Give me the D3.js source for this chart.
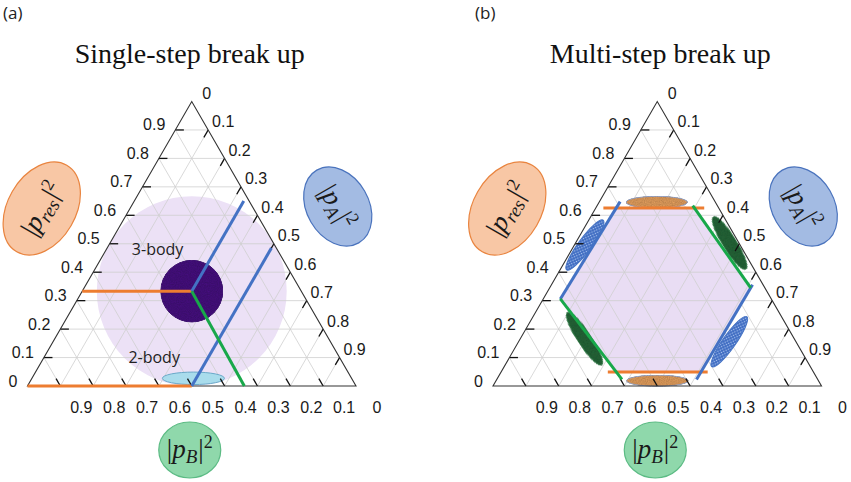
<!DOCTYPE html>
<html>
<head>
<meta charset="utf-8">
<script src="https://cdn.jsdelivr.net/npm/d3@7"></script>
<style>
  body { margin: 0; background: #fff; }
  svg { display: block; }
</style>
</head>
<body>
<div id="chart"></div>
<script>
const width = 851, height = 482;

// tick values / labels shared by the three edges
const tickValues = [0, 0.1, 0.2, 0.3, 0.4, 0.5, 0.6, 0.7, 0.8, 0.9];
const tickLabels = ["0", "0.1", "0.2", "0.3", "0.4", "0.5", "0.6", "0.7", "0.8", "0.9"];
const gridValues = [0.1, 0.2, 0.3, 0.4, 0.5, 0.6, 0.7, 0.8, 0.9];

const panelTags = ["(a)", "(b)"];
const panelTitles = ["Single-step break up", "Multi-step break up"];

// every point is [|p_res|^2, |p_A|^2]  (|p_B|^2 = 1 - both)
// panel (a): single-step break up
const singleRegionCenter = [1 / 3, 1 / 3];
const singleRegionRadius = 0.289;          // inscribed circle, in side units
const singleResLines = [[[1 / 3, 0], [1 / 3, 1 / 3]], [[0, 0], [0, 0.5]]];
const singleALines = [[[1 / 3, 1 / 3], [0.65, 1 / 3]], [[0, 0.5], [0.485, 0.5]]];
const singleBLines = [[[1 / 3, 1 / 3], [0, 0.66]]];
// clusters: long axis from -> to, half width in side units
const threeBody = { from: [1 / 3, 0.239], to: [1 / 3, 0.428], half: 0.094 };
const twoBody = { from: [0.027, 0.397], to: [0.027, 0.586], half: 0.019 };
const bodyLabels = ["3-body", "2-body"];
const bodyLabelPoints = [[0.48, 0.156], [0.103, 0.334]];

// panel (b): multi-step break up
const multiHexagon = [[0.626, 0.062], [0.626, 0.30], [0.345, 0.612], [0.049, 0.608], [0.049, 0.351], [0.306, 0.052]];
const multiResLines = [[[0.626, 0.023], [0.626, 0.330]], [[0.049, 0.325], [0.049, 0.629]]];
const multiALines = [[[0.306, 0.052], [0.648, 0.063]], [[0.356, 0.612], [0.023, 0.608]]];
const multiBLines = [[[0.306, 0.052], [0.023, 0.381]], [[0.634, 0.291], [0.345, 0.612]]];
const multiResClusters = [
  { from: [0.646, 0.082], to: [0.646, 0.269], half: 0.018 },
  { from: [0.0186, 0.397], to: [0.0186, 0.585], half: 0.017 }
];
const multiAClusters = [
  { from: [0.408, 0.020], to: [0.583, 0.044], half: 0.02 },
  { from: [0.2436, 0.651], to: [0.068, 0.632], half: 0.02 }
];
const multiBClusters = [
  { from: [0.595, 0.373], to: [0.410, 0.565], half: 0.021 },
  { from: [0.258, 0.097], to: [0.074, 0.294], half: 0.021 }
];

// styling
const lineColor = { res: "#ed7d31", A: "#4472c4", B: "#18a84a" };
const side = 328.5;
const triH = side * Math.sqrt(3) / 2;
const baseY = 386;
const panelLeft = [27.5, 493];

const svg = d3.select("#chart")
  .append("svg")
  .attr("width", width)
  .attr("height", height)
  .style("font-family", "'Liberation Sans', Arial, sans-serif");

/*********************/
/* textures          */
/*********************/
const defs = svg.append("defs");

const speckle = defs.append("filter").attr("id", "speckle")
  .attr("x", 0).attr("y", 0).attr("width", 1).attr("height", 1);
speckle.append("feTurbulence").attr("type", "fractalNoise")
  .attr("baseFrequency", 0.9).attr("numOctaves", 2).attr("seed", 4).attr("result", "noise");
speckle.append("feColorMatrix").attr("in", "noise").attr("type", "matrix")
  .attr("values", "0.33 0.33 0.33 0 0  0.33 0.33 0.33 0 0  0.33 0.33 0.33 0 0  0 0 0 0 1")
  .attr("result", "gray");
speckle.append("feComposite").attr("in", "SourceGraphic").attr("in2", "gray")
  .attr("operator", "arithmetic").attr("k1", 1.0).attr("k2", 0.55).attr("k3", 0).attr("k4", 0)
  .attr("result", "mix");
speckle.append("feComposite").attr("in", "mix").attr("in2", "SourceGraphic").attr("operator", "in");

const dots = defs.append("pattern").attr("id", "dots")
  .attr("patternUnits", "userSpaceOnUse").attr("width", 2.6).attr("height", 2.6)
  .attr("patternTransform", "rotate(30)");
dots.append("rect").attr("width", 2.6).attr("height", 2.6).attr("fill", "#3f6cc2");
dots.append("circle").attr("cx", 1.3).attr("cy", 1.3).attr("r", 0.75).attr("fill", "#a9c3ef");

/*********************/
/* one ternary panel */
/*********************/
function makePanel(i) {
  const g = svg.append("g");
  const x = d3.scaleLinear().domain([0, 1]).range([panelLeft[i], panelLeft[i] + side]);
  const y = d3.scaleLinear().domain([0, 1]).range([baseY, baseY - triH]);
  const pt = d => [x(d[1] + d[0] / 2), y(d[0])];
  const apex = pt([1, 0]);
  return { g, x, y, pt, apex };
}

function drawEllipse(p, c, fill, stroke, filter) {
  const a = p.pt(c.from), b = p.pt(c.to);
  const cx = (a[0] + b[0]) / 2, cy = (a[1] + b[1]) / 2;
  const rx = Math.hypot(b[0] - a[0], b[1] - a[1]) / 2;
  const ang = Math.atan2(b[1] - a[1], b[0] - a[0]) * 180 / Math.PI;
  const e = p.g.append("ellipse")
    .attr("transform", `translate(${cx},${cy}) rotate(${ang})`)
    .attr("rx", rx)
    .attr("ry", c.half * side)
    .attr("fill", fill)
    .attr("stroke", stroke)
    .attr("stroke-width", 1);
  if (filter) e.attr("filter", filter);
}

function drawGrid(p) {
  const line = d3.line();
  const segs = [];
  gridValues.forEach(k => {
    segs.push([[k, 0], [k, 1 - k]]);          // |p_res|^2 = k
    segs.push([[0, k], [1 - k, k]]);          // |p_A|^2 = k
    segs.push([[0, 1 - k], [1 - k, 0]]);      // |p_B|^2 = k
  });
  p.g.append("g").selectAll("path")
    .data(segs)
    .join("path")
      .attr("d", s => line(s.map(p.pt)))
      .attr("stroke", "#cfcfcf")
      .attr("stroke-width", 0.8)
      .attr("fill", "none");
}

function drawFrame(p) {
  const line = d3.line();
  const tl = 0.026;
  const ticks = [];
  gridValues.forEach(k => {
    ticks.push([[k, 0], [k, tl]]);
    ticks.push([[1 - k, k], [1 - k - tl, k]]);
    ticks.push([[0, 1 - k], [tl, 1 - k - tl]]);
  });
  p.g.append("g").selectAll("path")
    .data(ticks)
    .join("path")
      .attr("d", s => line(s.map(p.pt)))
      .attr("stroke", "#111")
      .attr("stroke-width", 1.3);

  p.g.append("path")
    .attr("d", line([[0, 0], [0, 1], [1, 0]].map(p.pt)) + "Z")
    .attr("fill", "none")
    .attr("stroke", "#333")
    .attr("stroke-width", 1.1);

  const labels = p.g.append("g")
    .attr("font-size", 16)
    .attr("fill", "#1a1a1a")
    .attr("dominant-baseline", "central");

  // |p_res|^2 on the left edge
  labels.append("g").selectAll("text")
    .data(tickValues)
    .join("text")
      .attr("x", v => p.pt([v, 0])[0] - 10)
      .attr("y", v => p.pt([v, 0])[1] - 5)
      .attr("text-anchor", "end")
      .text((v, j) => tickLabels[j]);

  // |p_A|^2 on the right edge
  labels.append("g").selectAll("text")
    .data(tickValues)
    .join("text")
      .attr("x", v => p.pt([1 - v, v])[0] + 15)
      .attr("y", v => p.pt([1 - v, v])[1] - 8)
      .attr("text-anchor", "middle")
      .text((v, j) => tickLabels[j]);

  // |p_B|^2 on the bottom edge
  labels.append("g").selectAll("text")
    .data(tickValues)
    .join("text")
      .attr("x", v => p.pt([0, 1 - v])[0] + 21)
      .attr("y", v => p.pt([0, 1 - v])[1] + 21)
      .attr("text-anchor", "middle")
      .text((v, j) => tickLabels[j]);
}

function drawLines(p, segs, color) {
  const line = d3.line();
  p.g.append("g").selectAll("path")
    .data(segs)
    .join("path")
      .attr("d", s => line(s.map(p.pt)))
      .attr("stroke", color)
      .attr("stroke-width", 3)
      .attr("fill", "none");
}

// axis title like |p_res|^2, rotated with its badge
function mathText(g, cx, cy, rot, sub) {
  const holder = g.append("g")
    .attr("transform", `translate(${cx},${cy}) rotate(${rot})`);
  const t = holder.append("text")
    .attr("x", 0)
    .attr("y", 9)
    .attr("text-anchor", "middle")
    .attr("font-family", "'Liberation Serif', 'Times New Roman', serif")
    .attr("font-size", 27)
    .attr("fill", "#1a1a1a");
  t.append("tspan").text("|");
  t.append("tspan").attr("font-style", "italic").text("p");
  t.append("tspan").attr("font-style", "italic").attr("font-size", 19).attr("dy", 5).text(sub);
  t.append("tspan").attr("dy", -5).attr("dx", 1).text("|");
  t.append("tspan").attr("font-size", 18).attr("dy", -10).text("2");
}

function drawAxisBadges(p) {
  const [ax, ay] = p.apex;
  const gb = p.g.append("g");
  // |p_res|^2
  gb.append("ellipse").attr("transform", `translate(${ax - 150},${ay + 107}) rotate(-60)`)
    .attr("rx", 50).attr("ry", 34)
    .attr("fill", "#f8c7a5").attr("stroke", "#e9843f").attr("stroke-width", 1.2);
  mathText(gb, ax - 150, ay + 107, -60, "res");
  // |p_A|^2
  gb.append("ellipse").attr("transform", `translate(${ax + 146},${ay + 105}) rotate(60)`)
    .attr("rx", 42).attr("ry", 31)
    .attr("fill", "#a3bbe3").attr("stroke", "#4a73bd").attr("stroke-width", 1.2);
  mathText(gb, ax + 146, ay + 105, 60, "A");
  // |p_B|^2
  gb.append("ellipse").attr("cx", ax - 2).attr("cy", ay + 348.5)
    .attr("rx", 31).attr("ry", 28)
    .attr("fill", "#8fd8ab").attr("stroke", "#5cbb84").attr("stroke-width", 1.2);
  mathText(gb, ax - 2, ay + 347, 0, "B");
}

function drawHeader(i, p) {
  svg.append("text")
    .attr("x", i === 0 ? 3 : 475)
    .attr("y", 19)
    .attr("font-family", "'Open Sans', sans-serif")
    .attr("font-size", 17)
    .attr("fill", "#222")
    .text(panelTags[i]);
  svg.append("text")
    .attr("x", p.apex[0] + (i === 0 ? -2 : 3))
    .attr("y", 63)
    .attr("text-anchor", "middle")
    .attr("font-family", "'Liberation Serif', 'Times New Roman', serif")
    .attr("font-size", 28)
    .attr("fill", "#111")
    .text(panelTitles[i]);
}

/**************************/
/* (a) single-step        */
/**************************/
const pa = makePanel(0);
drawHeader(0, pa);
pa.g.append("circle")
  .attr("cx", pa.pt(singleRegionCenter)[0])
  .attr("cy", pa.pt(singleRegionCenter)[1])
  .attr("r", singleRegionRadius * side)
  .attr("fill", "#ece1f6");
drawGrid(pa);
drawEllipse(pa, threeBody, "#3d0c70", "#3d0c70", "url(#speckle)");
drawEllipse(pa, twoBody, "#a9dcec", "#6aa9c9", null);
pa.g.append("g").selectAll("text")
  .data(bodyLabels)
  .join("text")
    .attr("x", (d, j) => pa.pt(bodyLabelPoints[j])[0])
    .attr("y", (d, j) => pa.pt(bodyLabelPoints[j])[1])
    .attr("text-anchor", "middle")
    .attr("dominant-baseline", "central")
    .attr("font-family", "'Open Sans', sans-serif")
    .attr("font-size", 16)
    .attr("fill", "#222")
    .text(d => d);
drawFrame(pa);
drawLines(pa, singleResLines, lineColor.res);
drawLines(pa, singleALines, lineColor.A);
drawLines(pa, singleBLines, lineColor.B);
drawAxisBadges(pa);

/**************************/
/* (b) multi-step         */
/**************************/
const pb = makePanel(1);
drawHeader(1, pb);
defs.append("clipPath").attr("id", "hexClip")
  .append("path")
  .attr("d", d3.line()(multiHexagon.map(pb.pt)) + "Z");
pb.g.append("circle")
  .attr("cx", pb.pt(singleRegionCenter)[0])
  .attr("cy", pb.pt(singleRegionCenter)[1])
  .attr("r", singleRegionRadius * side + 3)
  .attr("clip-path", "url(#hexClip)")
  .attr("fill", "#e9ddf4");
drawGrid(pb);
multiResClusters.forEach(c => drawEllipse(pb, c, "#c98c52", "#8e9cc0", "url(#speckle)"));
multiAClusters.forEach(c => drawEllipse(pb, c, "url(#dots)", "#4472c4", null));
multiBClusters.forEach(c => drawEllipse(pb, c, "#1f5a31", "#2f7a45", "url(#speckle)"));
drawFrame(pb);
drawLines(pb, multiResLines, lineColor.res);
drawLines(pb, multiALines, lineColor.A);
drawLines(pb, multiBLines, lineColor.B);
drawAxisBadges(pb);
</script>
</body>
</html>
